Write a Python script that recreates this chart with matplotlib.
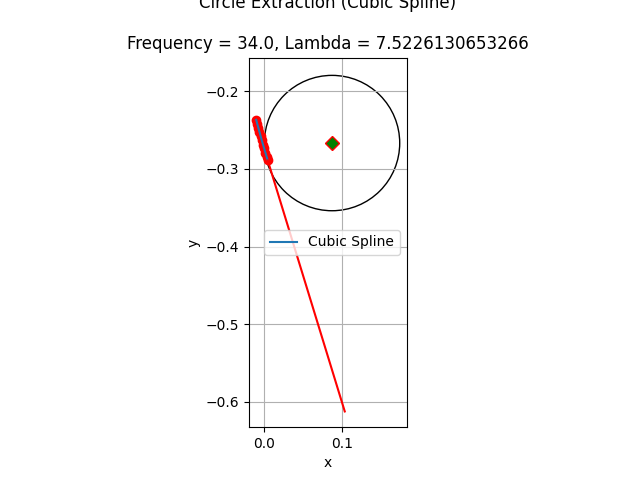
import matplotlib
matplotlib.use("Agg")
import matplotlib.pyplot as plt

# extracted points along the curve
point_x = [-0.0101, -0.0087, -0.0073, -0.0059, -0.0044, -0.0030, -0.0015, 0.0000, 0.0018, 0.0033, 0.0048]
point_y = [-0.2367, -0.2420, -0.2472, -0.2524, -0.2580, -0.2632, -0.2686, -0.2736, -0.2790, -0.2840, -0.2890]

# cubic spline through the points
spline_x = [-0.0101, -0.0090, -0.0079, -0.0067, -0.0054, -0.0041, -0.0027, -0.0012, 0.0004, 0.0020, 0.0034, 0.0048]
spline_y = [-0.2367, -0.2408, -0.2449, -0.2493, -0.2540, -0.2588, -0.2638, -0.2690, -0.2744, -0.2798, -0.2845, -0.2890]

# normal line from the last point
line_x = [0.0048, 0.1040]
line_y = [-0.2890, -0.6124]

center_x = 0.0876
center_y = -0.2666
radius = 0.0872

frequency = 34.0
lam = 7.5226130653266

fig, ax = plt.subplots(figsize=(6.4, 4.8), dpi=100)
ax.plot(point_x, point_y, "ro")
ax.plot(spline_x, spline_y, label="Cubic Spline")
ax.plot(line_x, line_y, "r-")
circle = plt.Circle((center_x, center_y), radius, fill=False, edgecolor="black")
ax.add_patch(circle)
ax.plot(center_x, center_y, "D", color="green", markeredgecolor="red", markersize=7)
ax.set_aspect("equal")
ax.set_xlim(-0.0191, 0.1839)
ax.set_ylim(-0.6327, -0.1565)
ax.set_xlabel("x")
ax.set_ylabel("y")
ax.set_title("Circle Extraction (Cubic Spline)\n\nFrequency = {}, Lambda = {}".format(frequency, lam))
ax.grid(True)
ax.legend(loc="center right")
fig.savefig("out.png")
